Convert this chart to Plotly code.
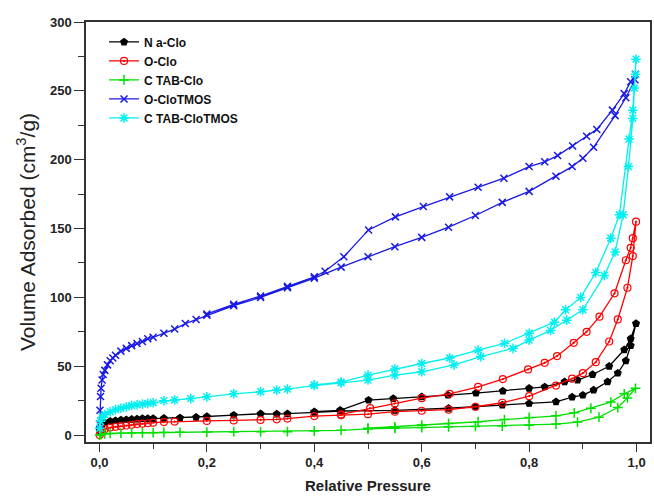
import plotly.graph_objects as go

# ---------------- data (relative pressure, volume adsorbed) ----------------
series_names = ["N a-Clo", "O-Clo", "C TAB-Clo", "O-CloTMOS", "C TAB-CloTMOS"]

# Na-Clo
naclo_ads_x = [0.0005, 0.002, 0.005, 0.01, 0.02, 0.03, 0.04, 0.05, 0.06, 0.07, 0.08, 0.09, 0.1, 0.12,
               0.15, 0.18, 0.2, 0.25, 0.3, 0.33, 0.35, 0.4, 0.45, 0.55, 0.65, 0.7, 0.75, 0.8, 0.85,
               0.88, 0.9, 0.92, 0.946, 0.965, 0.98, 0.989, 0.999]
naclo_ads_y = [3, 6, 8, 9, 10, 10.5, 11, 11.2, 11.5, 11.7, 12, 12, 12, 12.2,
               12.5, 13, 13.5, 14.5, 15.5, 15.3, 15.5, 16.5, 17.5, 18, 19.5, 20.5, 21.8, 23, 24.2,
               27.6, 29, 32.7, 38.7, 45, 54, 65, 81]
naclo_des_x = [0.989, 0.977, 0.949, 0.918, 0.89, 0.866, 0.829, 0.8, 0.751, 0.701, 0.649, 0.6,
               0.547, 0.501, 0.448, 0.4]
naclo_des_y = [70, 62, 50, 44, 40, 38.7, 35, 34, 32, 30.5, 29, 27.8,
               26.6, 25.4, 18, 17]

# O-Clo
oclo_ads_x = [0.0005, 0.002, 0.005, 0.01, 0.02, 0.03, 0.04, 0.05, 0.06, 0.07, 0.08, 0.09, 0.1, 0.12,
              0.14, 0.2, 0.25, 0.3, 0.33, 0.35, 0.4, 0.45, 0.5, 0.55, 0.6, 0.65, 0.7, 0.75, 0.8,
              0.85, 0.88, 0.9, 0.924, 0.949, 0.965, 0.983, 0.993, 0.999]
oclo_ads_y = [0, 2, 3.5, 4.5, 5.5, 6, 6.5, 7, 7.5, 8, 8.3, 8.6, 9, 9.5,
              9.8, 10.3, 10.7, 11, 11.5, 12, 13.8, 14.5, 15.2, 17, 17.7, 18.5, 20.6, 23.5, 28.3,
              36, 41, 45, 53, 68, 84, 107, 130, 155]
oclo_des_x = [0.993, 0.989, 0.98, 0.959, 0.931, 0.907, 0.883, 0.852, 0.829, 0.798, 0.751, 0.705,
              0.652, 0.6, 0.55, 0.504, 0.45]
oclo_des_y = [143, 136, 127, 103, 86, 75, 67, 57.4, 52.5, 47.7, 40.7, 35,
              30, 26.8, 23, 19.6, 15]

# CTAB-Clo
ctabclo_ads_x = [0.0005, 0.003, 0.01, 0.02, 0.04, 0.06, 0.08, 0.1, 0.12, 0.15, 0.2, 0.25, 0.3,
                 0.35, 0.4, 0.45, 0.5, 0.55, 0.6, 0.65, 0.7, 0.75, 0.8, 0.85, 0.89, 0.93, 0.965,
                 0.983, 0.998]
ctabclo_ads_y = [0, 0.5, 1, 1.2, 1.4, 1.6, 1.7, 1.8, 1.9, 2, 2.2, 2.3, 2.4,
                 2.5, 3, 3.5, 4.5, 5, 5.5, 6, 6.3, 6.6, 7.2, 8, 9.5, 13, 20,
                 27, 34]
ctabclo_des_x = [0.977, 0.952, 0.915, 0.884, 0.85, 0.8, 0.754, 0.705, 0.65, 0.6, 0.55, 0.5]
ctabclo_des_y = [30, 24, 19.5, 16.2, 14, 12.8, 11.3, 9.7, 8.5, 7.3, 6, 5]

# O-CloTMOS
oclotmos_ads_x = [0.0005, 0.001, 0.002, 0.003, 0.005, 0.007, 0.01, 0.015, 0.02, 0.025, 0.03, 0.04,
                  0.05, 0.06, 0.07, 0.08, 0.09, 0.1, 0.12, 0.14, 0.16, 0.18, 0.2, 0.25, 0.3, 0.35,
                  0.4, 0.45, 0.5, 0.55, 0.6, 0.65, 0.7, 0.75, 0.8, 0.85, 0.88, 0.9, 0.92, 0.96,
                  0.98, 0.997]
oclotmos_ads_y = [8, 18, 28, 34, 40, 44, 47, 51, 54, 56, 58, 61,
                  63, 65, 66.5, 68, 70, 71, 74, 77, 81, 84, 87, 94, 100, 107,
                  114, 122, 129.5, 136.8, 143.6, 151, 159.5, 169, 177, 188, 195, 201, 209, 232,
                  245, 258]
oclotmos_des_x = [0.998, 0.989, 0.977, 0.955, 0.926, 0.907, 0.881, 0.853, 0.829, 0.8, 0.753, 0.705,
                  0.652, 0.603, 0.551, 0.501, 0.455, 0.42, 0.4, 0.35, 0.3, 0.25, 0.2]
oclotmos_des_y = [262, 256.6, 248, 236, 222, 217, 210, 203, 198.5, 195, 186.6, 180,
                  173, 166, 158.5, 149, 129.5, 119, 115, 108, 101, 95, 88]

# CTAB-CloTMOS
ctabtmos_ads_x = [0.0005, 0.002, 0.005, 0.01, 0.02, 0.03, 0.04, 0.05, 0.06, 0.07, 0.08, 0.09, 0.1,
                  0.12, 0.14, 0.17, 0.2, 0.25, 0.3, 0.33, 0.35, 0.4, 0.45, 0.5, 0.55, 0.6, 0.66,
                  0.71, 0.77, 0.8, 0.84, 0.87, 0.9, 0.94, 0.96, 0.975, 0.985, 0.993, 0.998]
ctabtmos_ads_y = [5, 10, 13, 15, 17, 18.5, 19.5, 20.5, 21.5, 22, 22.5, 23, 23.5,
                  25, 25.5, 26.5, 27.8, 30, 31.5, 32.7, 33.4, 36, 38, 40, 43.6, 46, 51,
                  57, 63, 69, 76, 83.5, 91, 116, 133, 160, 195, 230, 262]
ctabtmos_des_x = [0.999, 0.996, 0.993, 0.986, 0.968, 0.952, 0.924, 0.896, 0.868, 0.847, 0.8, 0.754,
                  0.705, 0.652, 0.6, 0.55, 0.5, 0.45, 0.4]
ctabtmos_des_y = [273, 252, 236, 215, 160, 143, 118, 100, 91, 82, 74, 66.6,
                  61.7, 56, 52, 48, 43.6, 38.5, 36.5]

x_ticks = [0.0, 0.2, 0.4, 0.6, 0.8, 1.0]
y_ticks = [0, 50, 100, 150, 200, 250, 300]

# ---------------- styles ----------------
styles = [
    dict(color="#000000", symbol="pentagon", size=7),
    dict(color="#FF0000", symbol="circle-open-dot", size=7),
    dict(color="#00E000", symbol="cross-thin", size=7),
    dict(color="#1a1ae6", symbol="x-thin", size=7),
    dict(color="#00F0F0", symbol="asterisk", size=8),
]

data = [
    (naclo_ads_x, naclo_ads_y, naclo_des_x, naclo_des_y),
    (oclo_ads_x, oclo_ads_y, oclo_des_x, oclo_des_y),
    (ctabclo_ads_x, ctabclo_ads_y, ctabclo_des_x, ctabclo_des_y),
    (oclotmos_ads_x, oclotmos_ads_y, oclotmos_des_x, oclotmos_des_y),
    (ctabtmos_ads_x, ctabtmos_ads_y, ctabtmos_des_x, ctabtmos_des_y),
]

FONT = "Liberation Sans, Arial, sans-serif"

fig = go.Figure()
for name, st, (ax, ay, dx, dy) in zip(series_names, styles, data):
    sym = st["symbol"]
    marker = dict(symbol=sym, size=st["size"], color=st["color"],
                  line=dict(color=st["color"], width=1.5 if ("thin" in sym or sym == "asterisk") else 1.2))
    fig.add_trace(go.Scatter(
        x=list(ax) + list(dx), y=list(ay) + list(dy), name=name,
        mode="lines+markers", line=dict(color=st["color"], width=1.3),
        marker=marker,
    ))

fig.update_layout(
    width=654, height=498,
    margin=dict(l=86, r=2, t=22, b=56),
    paper_bgcolor="white", plot_bgcolor="white",
    separators=", ",
    showlegend=True,
    legend=dict(x=0.032, y=0.987, xanchor="left", yanchor="top",
                bgcolor="rgba(0,0,0,0)", tracegroupgap=0, itemwidth=30,
                font=dict(family=FONT, size=12, color="#111111", weight="bold")),
    font=dict(family=FONT),
)
fig.update_xaxes(
    range=[-0.025, 1.025], tickvals=x_ticks, tickformat=".1f",
    ticks="outside", ticklen=8, tickwidth=1.3, tickcolor="#333",
    minor=dict(dtick=0.1, ticks="outside", ticklen=5, tickwidth=1.3, tickcolor="#333"),
    showline=True, linecolor="#333", linewidth=1.5, mirror=True,
    showgrid=False, zeroline=False,
    tickfont=dict(family=FONT, size=13, color="#222", weight="bold"),
    title=dict(text="Relative Pressure", standoff=11,
               font=dict(family=FONT, size=15, color="#222", weight="bold")),
)
fig.update_yaxes(
    range=[-5, 300], tickvals=y_ticks,
    ticks="outside", ticklen=10, tickwidth=1.3, tickcolor="#333",
    minor=dict(dtick=25, ticks="outside", ticklen=6, tickwidth=1.3, tickcolor="#333"),
    showline=True, linecolor="#333", linewidth=1.5, mirror=True,
    showgrid=False, zeroline=False,
    tickfont=dict(family=FONT, size=13, color="#222", weight="bold"),
    title=dict(text="Volume Adsorbed (cm<sup>3</sup>/g)", standoff=9,
               font=dict(family=FONT, size=21, color="#222")),
)

fig.write_html("out.html", config={"displayModeBar": False},
               post_script="document.body.style.margin='0';document.body.style.overflow='hidden';")
